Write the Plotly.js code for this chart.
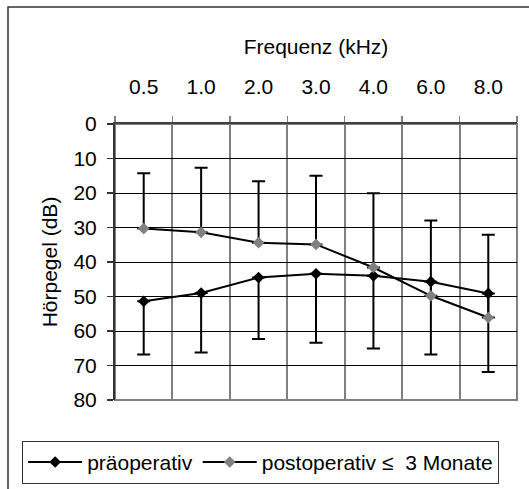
<!DOCTYPE html>
<html>
<head>
<meta charset="utf-8">
<script src="https://cdn.plot.ly/plotly-3.0.1.min.js"></script>
<style>html,body{margin:0;padding:0;background:#fff;}#chart{width:529px;height:489px;}</style>
</head>
<body>
<div id="chart"></div>
<script>
// Data
var frequencies = ["0.5", "1.0", "2.0", "3.0", "4.0", "6.0", "8.0"];
var preopMean = [51.4, 49.0, 44.5, 43.4, 44.0, 45.7, 49.1];
var preopSD = [15.4, 17.2, 17.8, 20.0, 21.1, 21.1, 22.8];
var postopMean = [30.3, 31.4, 34.4, 34.9, 41.6, 49.8, 56.1];
var postopSD = [16.0, 18.7, 17.8, 19.9, 21.5, 21.8, 24.0];
var yTicks = [0, 10, 20, 30, 40, 50, 60, 70, 80];
var seriesNames = ["präoperativ", "postoperativ \u2264  3 Monate"];

var zeros = frequencies.map(function(){ return 0; });
var FONT = "Liberation Sans, Arial, sans-serif";

var traces = [
  {
    x: frequencies, y: preopMean, name: seriesNames[0], type: "scatter", mode: "lines+markers",
    line: {color: "#000000", width: 2},
    marker: {symbol: "diamond", size: 9, color: "#000000"},
    error_y: {type: "data", symmetric: false, array: preopSD, arrayminus: zeros,
              color: "#000000", thickness: 2, width: 6.5}
  },
  {
    x: frequencies, y: postopMean, name: seriesNames[1], type: "scatter", mode: "lines+markers",
    line: {color: "#000000", width: 2},
    marker: {symbol: "diamond", size: 9, color: "#808080"},
    error_y: {type: "data", symmetric: false, array: zeros, arrayminus: postopSD,
              color: "#000000", thickness: 2, width: 6.5}
  }
];

var layout = {
  width: 529, height: 489,
  margin: {l: 115, r: 12, t: 124, b: 89, pad: 0, autoexpand: false},
  paper_bgcolor: "#ffffff", plot_bgcolor: "#ffffff",
  font: {family: FONT, size: 21, color: "#000000"},
  showlegend: true,
  xaxis: {
    type: "category", side: "top", range: [-0.5, 6.5],
    tickson: "boundaries", ticks: "outside", ticklen: 6, tickwidth: 1.5, tickcolor: "#808080",
    showgrid: true, gridcolor: "#808080", gridwidth: 2,
    showline: true, linecolor: "#404040", linewidth: 2,
    ticklabelstandoff: 20,
    tickfont: {family: FONT, size: 21, color: "#000000"},
    title: {text: "Frequenz (kHz)", font: {family: FONT, size: 21, color: "#000000"}, standoff: 14},
    fixedrange: true
  },
  yaxis: {
    range: [80, 0], tickvals: yTicks, ticktext: yTicks.map(String),
    ticks: "outside", ticklen: 6, tickwidth: 1.5, tickcolor: "#333333",
    showgrid: true, gridcolor: "#000000", gridwidth: 1,
    showline: true, linecolor: "#333333", linewidth: 2, zeroline: false,
    ticklabelstandoff: 6,
    tickfont: {family: FONT, size: 21, color: "#000000"},
    title: {text: "Hörpegel (dB)", font: {family: FONT, size: 21, color: "#000000"}, standoff: 10},
    fixedrange: true
  },
  legend: {
    orientation: "h", x: -0.231, xanchor: "left", y: -0.148, yanchor: "top",
    bgcolor: "#ffffff", bordercolor: "#333333", borderwidth: 1,
    font: {family: FONT, size: 21, color: "#000000"},
    itemwidth: 54, tracegroupgap: 0
  },
  shapes: [
    {type: "rect", xref: "paper", yref: "paper", x0: 0, x1: 1, y0: 0, y1: 1,
     line: {color: "#808080", width: 2}, fillcolor: "rgba(0,0,0,0)", layer: "below"},
    {type: "rect", xref: "paper", yref: "paper", x0: (8 - 115) / 402, x1: 1.5, y0: (400 - 7) / 276, y1: -1,
     line: {color: "#333333", width: 1.5}, fillcolor: "rgba(0,0,0,0)", layer: "below"}
  ]
};

Plotly.newPlot("chart", traces, layout, {displayModeBar: false, staticPlot: true});
</script>
</body>
</html>
